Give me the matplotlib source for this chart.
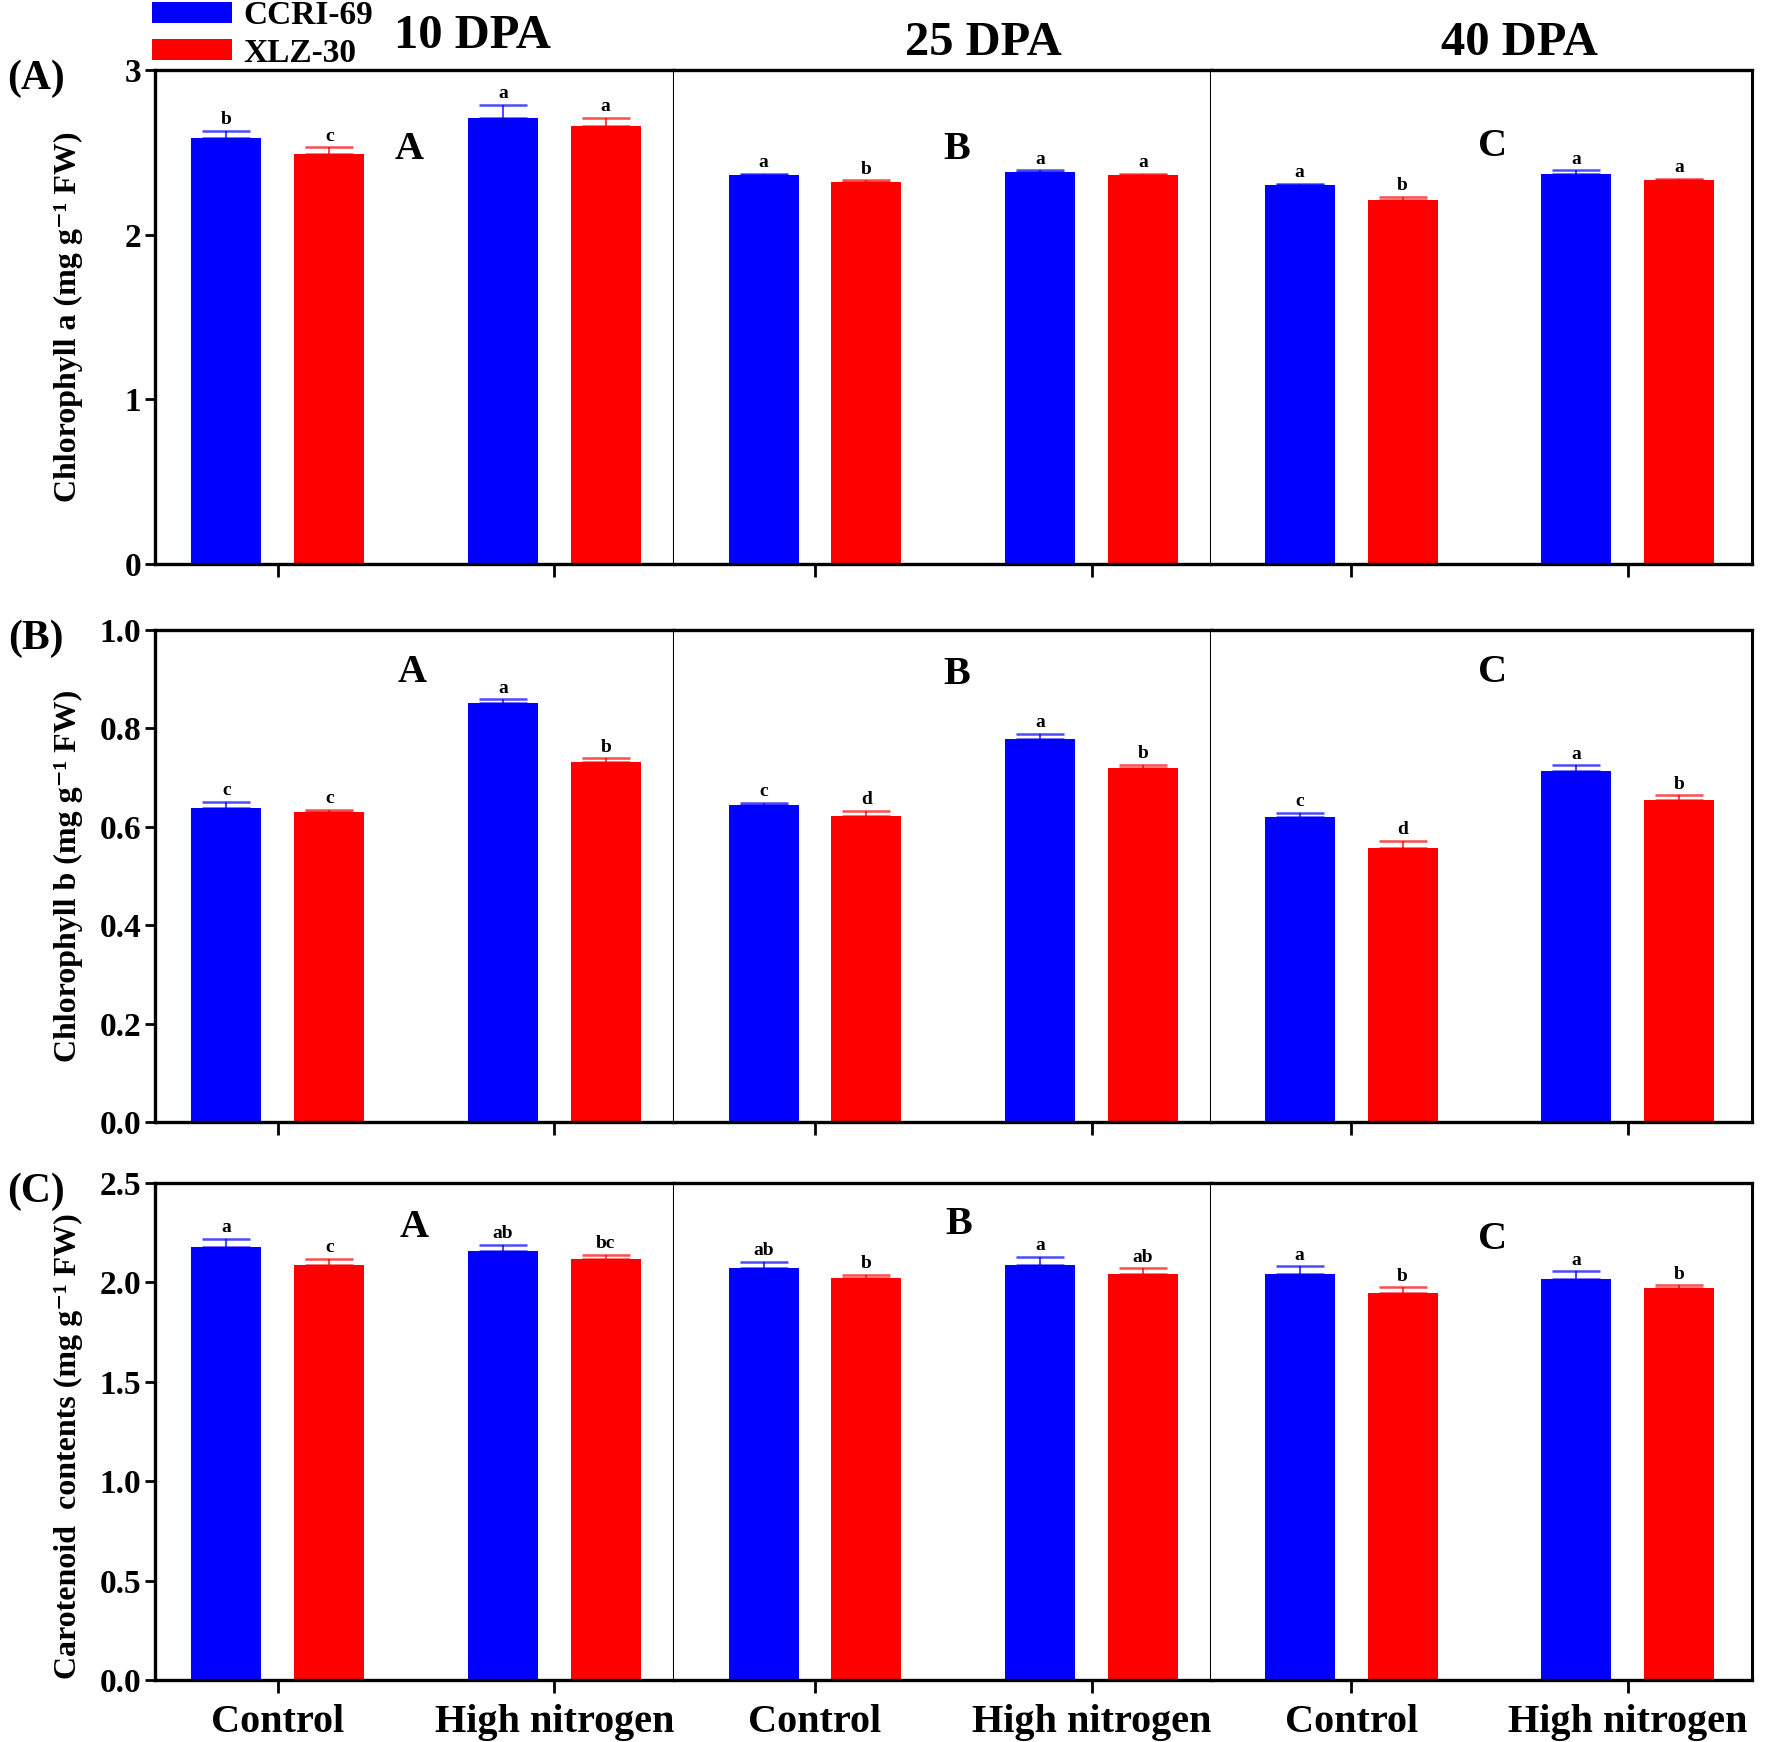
import matplotlib
matplotlib.use("Agg")
import matplotlib.pyplot as plt
from matplotlib.patches import Patch
import numpy as np

plt.rcParams["font.family"] = ["Liberation Serif", "DejaVu Serif"]
plt.rcParams["font.weight"] = "bold"

# ---- data ----
stages = ["10 DPA", "25 DPA", "40 DPA"]
treatments = ["Control", "High nitrogen"]
cultivars = ["CCRI-69", "XLZ-30"]
colors = ["#0000FF", "#FF0000"]

# rows: stage, cols: treatment
chl_a_ccri = [[2.59, 2.71], [2.36, 2.38], [2.30, 2.37]]
chl_a_xlz = [[2.49, 2.66], [2.32, 2.36], [2.21, 2.33]]
chl_a_ccri_err = [[0.04, 0.08], [0.01, 0.01], [0.01, 0.02]]
chl_a_xlz_err = [[0.04, 0.05], [0.01, 0.01], [0.02, 0.01]]
chl_a_ccri_sig = [["b", "a"], ["a", "a"], ["a", "a"]]
chl_a_xlz_sig = [["c", "a"], ["b", "a"], ["b", "a"]]

chl_b_ccri = [[0.638, 0.851], [0.644, 0.778], [0.620, 0.713]]
chl_b_xlz = [[0.630, 0.732], [0.622, 0.719], [0.557, 0.654]]
chl_b_ccri_err = [[0.012, 0.008], [0.005, 0.011], [0.008, 0.012]]
chl_b_xlz_err = [[0.005, 0.007], [0.011, 0.007], [0.014, 0.010]]
chl_b_ccri_sig = [["c", "a"], ["c", "a"], ["c", "a"]]
chl_b_xlz_sig = [["c", "b"], ["d", "b"], ["d", "b"]]

car_ccri = [[2.18, 2.16], [2.07, 2.09], [2.04, 2.015]]
car_xlz = [[2.09, 2.12], [2.02, 2.04], [1.945, 1.97]]
car_ccri_err = [[0.04, 0.03], [0.035, 0.04], [0.04, 0.04]]
car_xlz_err = [[0.03, 0.02], [0.017, 0.03], [0.03, 0.015]]
car_ccri_sig = [["a", "ab"], ["ab", "a"], ["a", "a"]]
car_xlz_sig = [["c", "bc"], ["b", "ab"], ["b", "b"]]

rows = [
    dict(tag="(A)", ylabel="Chlorophyll a (mg g\u207b\u00b9 FW)",
         vals=(chl_a_ccri, chl_a_xlz), errs=(chl_a_ccri_err, chl_a_xlz_err),
         sig=(chl_a_ccri_sig, chl_a_xlz_sig),
         ylim=(0, 3), yticks=[0, 1, 2, 3], fmt="{:.0f}"),
    dict(tag="(B)", ylabel="Chlorophyll b (mg g\u207b\u00b9 FW)",
         vals=(chl_b_ccri, chl_b_xlz), errs=(chl_b_ccri_err, chl_b_xlz_err),
         sig=(chl_b_ccri_sig, chl_b_xlz_sig),
         ylim=(0, 1.0), yticks=[0, 0.2, 0.4, 0.6, 0.8, 1.0], fmt="{:.1f}"),
    dict(tag="(C)", ylabel="Carotenoid  contents (mg g\u207b\u00b9 FW)",
         vals=(car_ccri, car_xlz), errs=(car_ccri_err, car_xlz_err),
         sig=(car_ccri_sig, car_xlz_sig),
         ylim=(0, 2.5), yticks=[0, 0.5, 1.0, 1.5, 2.0, 2.5], fmt="{:.1f}"),
]
stage_letters = ["A", "B", "C"]

# ---- layout (pixel boxes of the original) ----
W, H = 1770, 1742
col_px = [(155, 674), (674, 1211), (1211, 1752)]
row_px = [(70, 564), (630, 1122), (1183, 1680)]
ylabel_yc = [317, 876, 1446]
col_xlim = [(0.556, 2.433), (0.49, 2.432), (0.493, 2.45)]
letter_pos = [
    [(0.489, 0.84), (0.527, 0.84), (0.521, 0.845)],
    [(0.495, 0.913), (0.527, 0.91), (0.521, 0.914)],
    [(0.499, 0.911), (0.531, 0.916), (0.521, 0.887)],
]
bar_w = 0.253
offs = 0.186

fig = plt.figure(figsize=(W / 100, H / 100), dpi=100)

for r, row in enumerate(rows):
    y0, y1 = row_px[r]
    for c in range(3):
        x0, x1 = col_px[c]
        ax = fig.add_axes([x0 / W, 1 - y1 / H, (x1 - x0) / W, (y1 - y0) / H])
        x = np.arange(1, len(treatments) + 1)
        for k in range(2):
            v = np.array(row["vals"][k][c])
            e = np.array(row["errs"][k][c])
            xk = x + (-offs if k == 0 else offs)
            ax.bar(xk, v, width=bar_w, color=colors[k], zorder=2)
            ax.errorbar(xk, v, yerr=[np.zeros_like(e), e], fmt="none",
                        ecolor=colors[k], elinewidth=1.5, capsize=17,
                        capthick=1.8, alpha=0.7, zorder=3)
            for xi, vi, ei, s in zip(xk, v, e, row["sig"][k][c]):
                ax.annotate(s, (xi, vi + ei), xytext=(0, 2),
                            textcoords="offset points", ha="center",
                            va="bottom", fontsize=14, fontweight="bold")
        lx, ly = letter_pos[r][c]
        ax.text(lx, ly, stage_letters[c], transform=ax.transAxes,
                ha="center", va="center", fontsize=29, fontweight="bold")

        ax.set_xlim(*col_xlim[c])
        ax.set_ylim(*row["ylim"])
        ax.set_xticks(x)
        ax.tick_params(axis="x", direction="out", length=9, width=2)
        if r == 2:
            ax.set_xticklabels(treatments, fontsize=29, fontweight="bold")
            ax.tick_params(axis="x", pad=8)
        else:
            ax.set_xticklabels([])
        if c == 0:
            ax.set_yticks(row["yticks"])
            ax.set_yticklabels([row["fmt"].format(t) for t in row["yticks"]],
                               fontsize=24, fontweight="bold")
            ax.tick_params(axis="y", direction="out", length=7, width=2, pad=3)
        else:
            ax.set_yticks([])
            ax.spines["left"].set_visible(False)
        for side in ["top", "bottom", "left"]:
            ax.spines[side].set_linewidth(2.4)
        ax.spines["right"].set_linewidth(2.2 if c == 2 else 1.5)

    fig.text(0.0384, 1 - ylabel_yc[r] / H, row["ylabel"], rotation=90,
             ha="center", va="center", fontsize=23, fontweight="bold")
    fig.text(36 / W, 1 - (y0 + 9) / H, row["tag"], ha="center", va="center",
             fontsize=30, fontweight="bold")

# stage titles
title_xy = [(472, 36), (983, 43), (1519, 43)]
for s, (tx, ty) in zip(stages, title_xy):
    fig.text(tx / W, 1 - ty / H, s, ha="center", va="center",
             fontsize=35, fontweight="bold")

handles = [Patch(facecolor=col, edgecolor="none") for col in colors]
fig.legend(handles, cultivars, loc="upper left", bbox_to_anchor=(152 / W, 1.0),
           frameon=False, fontsize=24, handlelength=2.4, handleheight=0.6,
           handletextpad=0.35, labelspacing=0.2, borderpad=0, borderaxespad=0)

fig.savefig("out.png", dpi=100)
